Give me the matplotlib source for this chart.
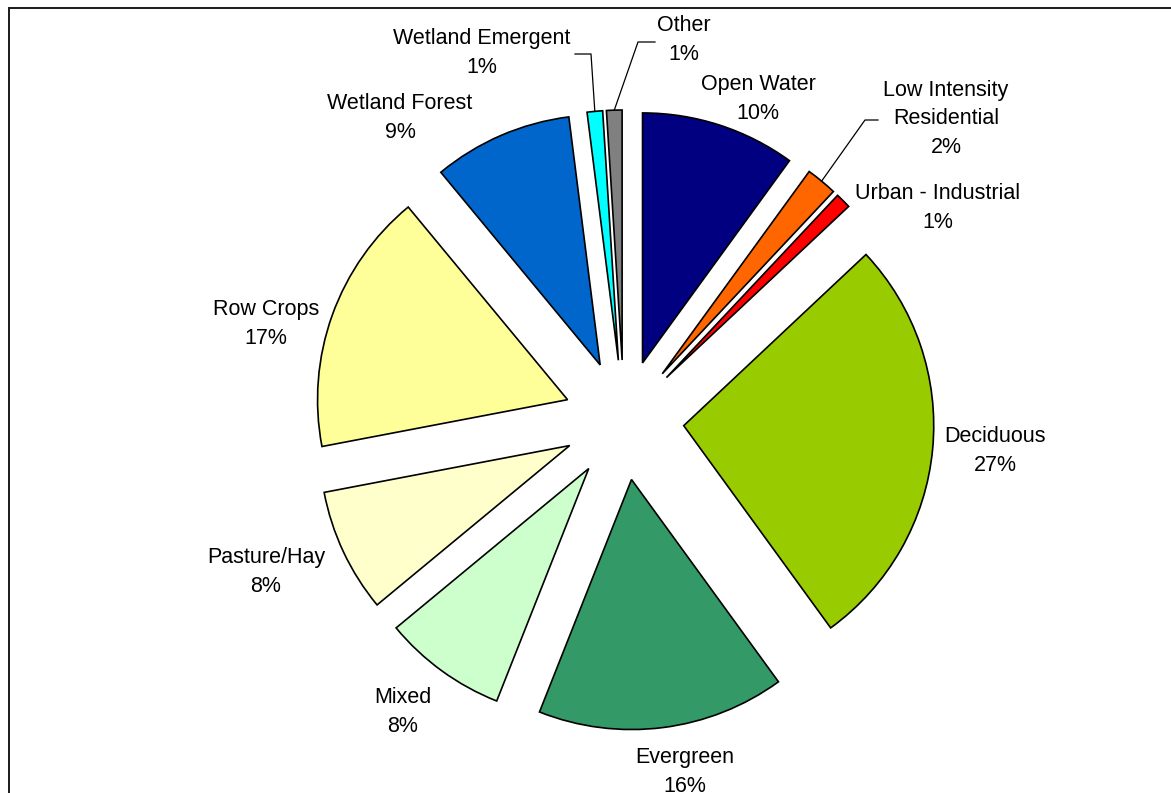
import numpy as np
import matplotlib.pyplot as plt
from matplotlib.patches import Rectangle

# land cover shares, clockwise from 12 o'clock
categories = ['Open Water', 'Low Intensity\nResidential', 'Urban - Industrial',
              'Deciduous', 'Evergreen', 'Mixed', 'Pasture/Hay', 'Row Crops',
              'Wetland Forest', 'Wetland Emergent', 'Other']
shares = [10, 2, 1, 27, 16, 8, 8, 17, 9, 1, 1]
colors = ['#000080', '#FF6600', '#FF0000', '#99CC00', '#339966', '#CCFFCC',
          '#FFFFCC', '#FFFF99', '#0066CC', '#00FFFF', '#808080']

W, H = 1171, 793
CX, CY, R = 624, 420, 250  # pie centre and radius in pixels
EXPLODE = 60 / R


def px(x, y):
    # pixel position -> pie data units
    return (x - CX) / R, (CY - y) / R


# label centres (pixels) and which labels get a leader line
label_pos = [(758, 99), (946, 119), (938, 208), (995, 451), (685, 772),
             (403, 712), (266, 572), (266, 324), (400, 118), (482, 53), (684, 40)]
leader_from = {1: (878, 120), 9: (575, 54), 10: (655, 42)}
leader_elbow = {1: (865, 120), 9: (591, 54), 10: (638, 42)}

plt.rcParams['font.family'] = ['Liberation Sans', 'DejaVu Sans']

fig = plt.figure(figsize=(W / 100, H / 100), dpi=100)
ax = fig.add_axes([0, 0, 1, 1])

wedges, _ = ax.pie(shares, colors=colors, radius=1, startangle=90,
                   counterclock=False, explode=[EXPLODE] * len(shares),
                   wedgeprops=dict(edgecolor='black', linewidth=1.2))

for i, (w, name, val) in enumerate(zip(wedges, categories, shares)):
    tx, ty = px(*label_pos[i])
    ax.text(tx, ty, f'{name}\n{val}%', ha='center', va='center',
            fontsize=15.5, linespacing=1.45, color='black')
    if i in leader_from:
        mid = np.deg2rad((w.theta1 + w.theta2) / 2)
        tip = (1 + EXPLODE) * np.cos(mid), (1 + EXPLODE) * np.sin(mid)
        a = px(*leader_from[i])
        b = px(*leader_elbow[i])
        ax.plot([a[0], b[0], tip[0]], [a[1], b[1], tip[1]],
                color='black', linewidth=0.9)

ax.set_xlim(-CX / R, (W - CX) / R)
ax.set_ylim(-(H - CY) / R, CY / R)
ax.set_aspect('equal')
ax.axis('off')

# chart area border running off the right and bottom edges
fig.patches.append(Rectangle((9 / W, -0.1), 1.2, (H - 8) / H + 0.1,
                             transform=fig.transFigure, fill=False,
                             edgecolor='#1a1a1a', linewidth=1.4))

fig.savefig('out.png', dpi=100)
